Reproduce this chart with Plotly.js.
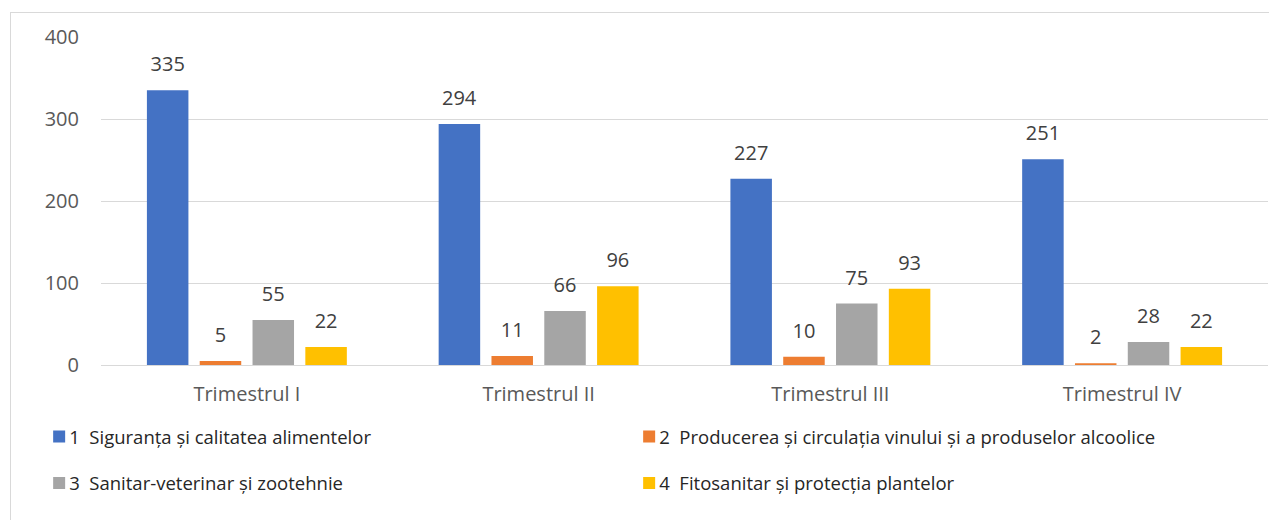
<!DOCTYPE html>
<html>
<head>
<meta charset="utf-8">
<script src="https://cdn.plot.ly/plotly-3.0.1.min.js"></script>
<style>
  html, body { margin: 0; padding: 0; background: #fff; }
  #frame { position: absolute; left: 10px; top: 12px; width: 1400px; height: 600px; border: 1px solid #d9d9d9; box-sizing: border-box; }
  #chart { position: absolute; left: 0; top: 0; width: 1269px; height: 520px; }
</style>
</head>
<body>
<div id="frame"></div>
<div id="chart"></div>
<script>
const categories = ["Trimestrul I", "Trimestrul II", "Trimestrul III", "Trimestrul IV"];
const seriesNames = [
  "1  Siguranța și calitatea alimentelor",
  "2  Producerea și circulația vinului și a produselor alcoolice",
  "3  Sanitar-veterinar și zootehnie",
  "4  Fitosanitar și protecția plantelor"
];
const s1 = [335, 294, 227, 251];
const s2 = [5, 11, 10, 2];
const s3 = [55, 66, 75, 28];
const s4 = [22, 96, 93, 22];
const colors = ["#4472C4", "#ED7D31", "#A5A5A5", "#FFC000"];
const yTicks = [0, 100, 200, 300, 400];

const FONT = "'Open Sans', 'Noto Sans', sans-serif";
const allSeries = [s1, s2, s3, s4];
const legendIds = ["legend", "legend", "legend2", "legend2"];

const traces = allSeries.map((vals, i) => ({
  type: "bar",
  x: categories,
  y: vals,
  name: seriesNames[i],
  marker: { color: colors[i] },
  text: vals.map(String),
  textposition: "outside",
  cliponaxis: false,
  textfont: { family: FONT, size: 20, color: "#404040" },
  legend: legendIds[i],
  hoverinfo: "x+y"
}));

const legendBase = {
  orientation: "h",
  xanchor: "left",
  yanchor: "middle",
  x: -0.053,
  entrywidth: 545,
  entrywidthmode: "pixels",
  font: { family: FONT, size: 18.5, color: "#262626" },
  bgcolor: "rgba(0,0,0,0)",
  traceorder: "normal"
};

const layout = {
  width: 1269,
  height: 520,
  margin: { l: 101, r: 1, t: 37, b: 155 },
  paper_bgcolor: "rgba(0,0,0,0)",
  plot_bgcolor: "rgba(0,0,0,0)",
  barmode: "group",
  bargap: 0.276,
  bargroupgap: 0.214,
  showlegend: true,
  legend: Object.assign({}, legendBase, { y: -0.2195 }),
  legend2: Object.assign({}, legendBase, { y: -0.3613 }),
  xaxis: {
    type: "category",
    showgrid: false,
    showline: false,
    zeroline: false,
    ticks: "",
    ticklabelstandoff: 15,
    tickfont: { family: FONT, size: 20, color: "#595959" }
  },
  yaxis: {
    range: [0, 400],
    tickvals: yTicks,
    ticktext: yTicks.map(String),
    showgrid: true,
    gridcolor: "#d9d9d9",
    gridwidth: 1,
    zeroline: true,
    zerolinecolor: "#d9d9d9",
    zerolinewidth: 1,
    showline: false,
    ticks: "",
    ticklabelstandoff: 21,
    tickfont: { family: FONT, size: 20, color: "#595959" }
  }
};

function tweak(gd) {
  // lift the value labels a little higher above the bars, as in the reference
  gd.querySelectorAll("text.bartext").forEach(t => {
    if (t.dataset.lifted) return;
    t.dataset.lifted = "1";
    const tr = t.getAttribute("transform") || "";
    t.setAttribute("transform", "translate(0,-10) " + tr);
  });
  // tighten the gap between legend swatch and its text, as in the reference
  gd.querySelectorAll("text.legendtext, text.legend2text").forEach(t => {
    if (t.dataset.moved) return;
    t.dataset.moved = "1";
    const x = parseFloat(t.getAttribute("x") || "0");
    t.setAttribute("x", String(x - 10));
  });
}

Plotly.newPlot("chart", traces, layout, { displayModeBar: false, staticPlot: true }).then(gd => {
  tweak(gd);
});
</script>
</body>
</html>
